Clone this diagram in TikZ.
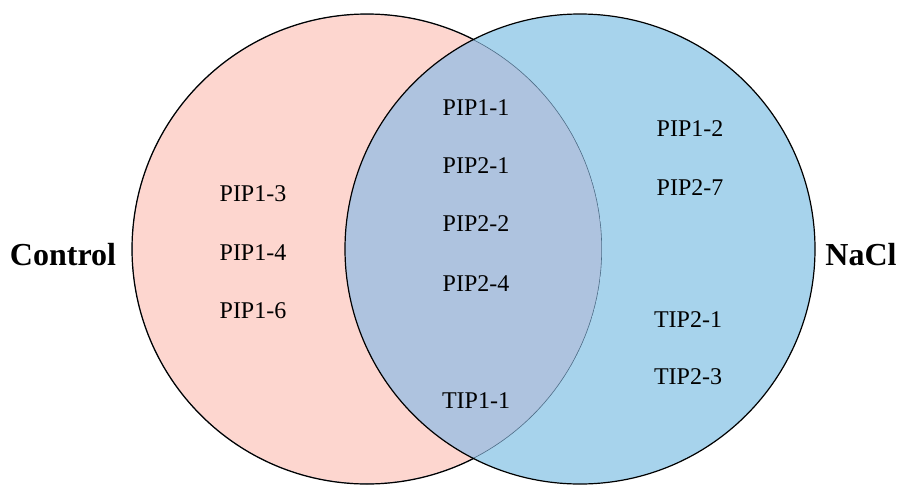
\documentclass[tikz,border=0pt]{standalone}
\usepackage{fontspec}
\setmainfont{Liberation Serif}
\definecolor{pinkfill}{HTML}{FDD6CF}
\definecolor{bluefill}{HTML}{A7D3EC}
\definecolor{lensfill}{HTML}{AEC3DF}
\definecolor{lensline}{HTML}{4C6E88}
\begin{document}
\begin{tikzpicture}[x=1pt,y=-1pt,
  item/.style={font=\fontsize{24}{28}\selectfont, inner sep=0pt},
  setlabel/.style={font=\fontsize{32}{36}\selectfont\bfseries, inner sep=0pt}]
\useasboundingbox (0,0) rectangle (899,485);
\fill[pinkfill] (367,249) circle (235);
\fill[bluefill] (580,249) circle (235);
\begin{scope}
  \clip (367,249) circle (235);
  \fill[lensfill] (580,249) circle (235);
  \draw[lensline, line width=1.2pt] (367,249) circle (235);
\end{scope}
\begin{scope}[even odd rule]
  \clip (-10,-10) rectangle (910,500) (580,249) circle (235);
  \draw[black, line width=1.2pt] (367,249) circle (235);
\end{scope}
\draw[black, line width=1.2pt] (580,249) circle (235);

\node[item] (a1) at (253,194) {PIP1-3};
\node[item] (a2) at (253,253) {PIP1-4};
\node[item] (a3) at (253,311) {PIP1-6};
\node[item] (b1) at (476,108) {PIP1-1};
\node[item] (b2) at (476,166) {PIP2-1};
\node[item] (b3) at (476,224) {PIP2-2};
\node[item] (b4) at (476,284) {PIP2-4};
\node[item] (b5) at (476,401) {TIP1-1};
\node[item] (c1) at (690,129) {PIP1-2};
\node[item] (c2) at (690,188) {PIP2-7};
\node[item] (c3) at (688,320) {TIP2-1};
\node[item] (c4) at (688,377) {TIP2-3};
\node[setlabel] (ctrl) at (63,255) {Control};
\node[setlabel] (nacl) at (861,255) {NaCl};
\end{tikzpicture}
\end{document}
